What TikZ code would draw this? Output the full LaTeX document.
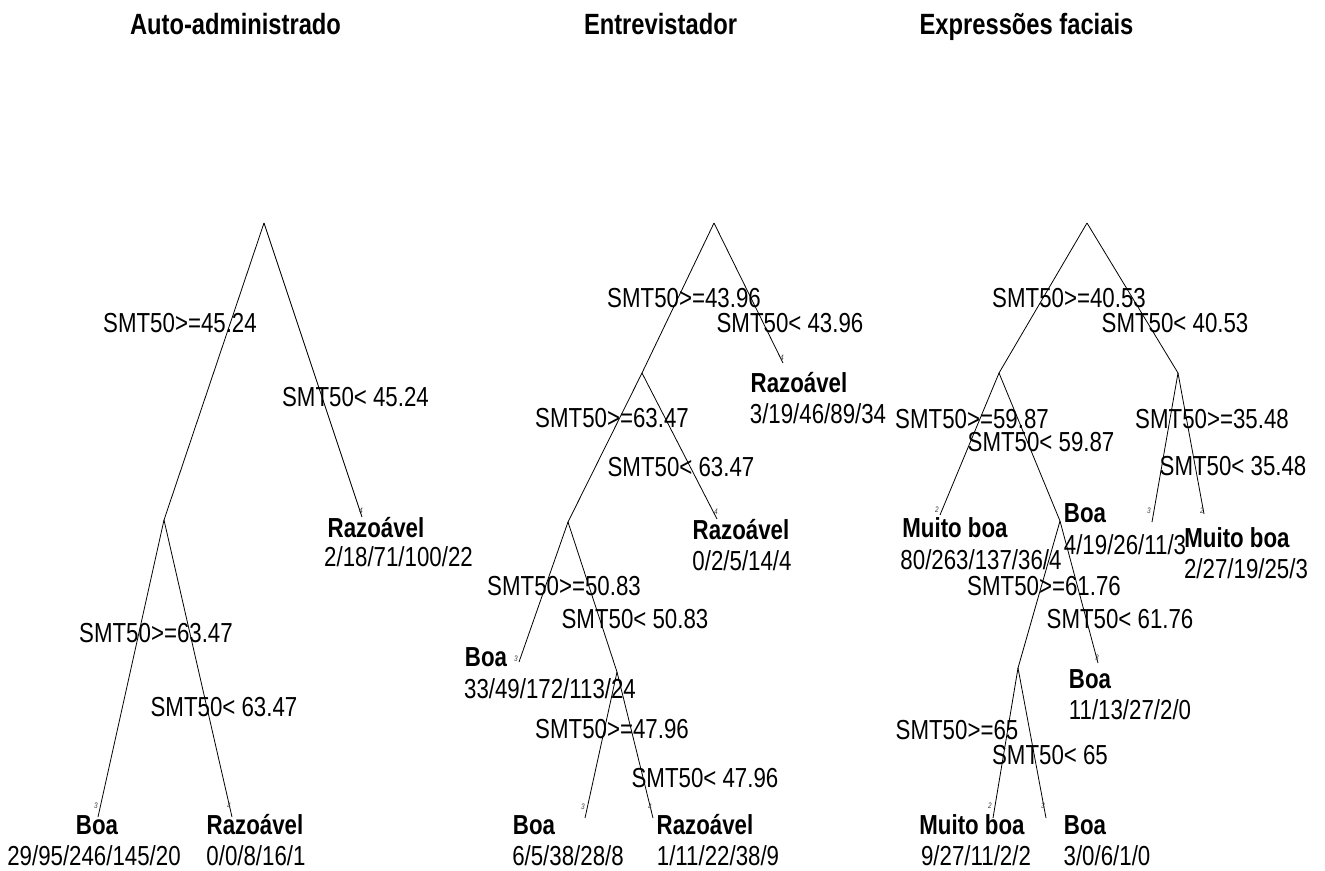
\documentclass[tikz,border=0pt]{standalone}
\usepackage{fontspec}
\setmainfont{Liberation Sans}[FakeStretch=0.81]
\begin{document}
\begin{tikzpicture}[x=1pt,y=-1pt,
  edge/.style={line width=0.8pt,black},
  lbl/.style={anchor=base,inner sep=0pt,font=\fontsize{27.5}{30}\selectfont},
  cls/.style={anchor=base,inner sep=0pt,font=\fontsize{27.5}{30}\selectfont\bfseries},
  ttl/.style={anchor=base,inner sep=0pt,font=\fontsize{29.3}{32}\selectfont\bfseries},
  tag/.style={anchor=center,inner sep=0pt,text=black!75,font=\fontsize{8}{9}\selectfont\itshape}]
\useasboundingbox (0,0) rectangle (1325,870);
% titles
\node[ttl] (t1) at (235.5,34) {Auto-administrado};
\node[ttl] (t2) at (660.5,34) {Entrevistador};
\node[ttl] (t3) at (1026.5,34) {Expressões faciais};
% ---------- panel 1 ----------
\coordinate (r1) at (264,223);
\coordinate (a1) at (164,520);
\coordinate (p1l3) at (362,517);
\coordinate (p1l1) at (98,817);
\coordinate (p1l2) at (232,817);
\draw[edge] (r1) -- (a1);
\draw[edge] (r1) -- (p1l3);
\draw[edge] (a1) -- (p1l1);
\draw[edge] (a1) -- (p1l2);
\node[lbl] (s1a) at (180,332) {SMT50>=45.24};
\node[lbl] (s1b) at (355.5,406) {SMT50< 45.24};
\node[lbl] (s1c) at (156,642.5) {SMT50>=63.47};
\node[lbl] (s1d) at (224,716) {SMT50< 63.47};
\node[cls] (c1a) at (376,537.5) {Razoável};
\node[lbl] (n1a) at (398.5,566) {2/18/71/100/22};
\node[cls] (c1b) at (97,834) {Boa};
\node[lbl] (n1b) at (94,865) {29/95/246/145/20};
\node[cls] (c1c) at (255,834) {Razoável};
\node[lbl] (n1c) at (256,865) {0/0/8/16/1};
\node[tag] (g1a) at (361,511) {4};
\node[tag] (g1b) at (96,806) {3};
\node[tag] (g1c) at (229,806) {4};
% ---------- panel 2 ----------
\coordinate (r2) at (714,223);
\coordinate (a2) at (642,373);
\coordinate (p2l1) at (783,363);
\coordinate (b2) at (568,522);
\coordinate (p2l2) at (717,519);
\coordinate (p2l3) at (519,662);
\coordinate (c2) at (617,672);
\coordinate (p2l4) at (585,818);
\coordinate (p2l5) at (653,818);
\draw[edge] (r2) -- (a2);
\draw[edge] (r2) -- (p2l1);
\draw[edge] (a2) -- (b2);
\draw[edge] (a2) -- (p2l2);
\draw[edge] (b2) -- (p2l3);
\draw[edge] (b2) -- (c2);
\draw[edge] (c2) -- (p2l4);
\draw[edge] (c2) -- (p2l5);
\node[lbl] (s2a) at (684,307) {SMT50>=43.96};
\node[lbl] (s2b) at (790,332) {SMT50< 43.96};
\node[cls] (c2a) at (799,392) {Razoável};
\node[lbl] (n2a) at (818,423) {3/19/46/89/34};
\node[lbl] (s2c) at (612,427.5) {SMT50>=63.47};
\node[lbl] (s2d) at (681,476) {SMT50< 63.47};
\node[cls] (c2b) at (741,539) {Razoável};
\node[lbl] (n2b) at (742,570) {0/2/5/14/4};
\node[lbl] (s2e) at (564,595) {SMT50>=50.83};
\node[lbl] (s2f) at (635,628) {SMT50< 50.83};
\node[cls] (c2c) at (486,666) {Boa};
\node[lbl] (n2c) at (550,698) {33/49/172/113/24};
\node[lbl] (s2g) at (612,738) {SMT50>=47.96};
\node[lbl] (s2h) at (705,787) {SMT50< 47.96};
\node[cls] (c2d) at (534,834) {Boa};
\node[lbl] (n2d) at (568,865) {6/5/38/28/8};
\node[cls] (c2e) at (705,834) {Razoável};
\node[lbl] (n2e) at (718,865) {1/11/22/38/9};
\node[tag] (g2a) at (782,358) {4};
\node[tag] (g2b) at (716,512) {4};
\node[tag] (g2c) at (516,659) {3};
\node[tag] (g2d) at (583,807) {3};
\node[tag] (g2e) at (650,807) {4};
% ---------- panel 3 ----------
\coordinate (r3) at (1087,223);
\coordinate (a3) at (999,373);
\coordinate (b3) at (1178,373);
\coordinate (p3l1) at (940,515);
\coordinate (c3) at (1060,521);
\coordinate (d3) at (1018,668);
\coordinate (p3l2) at (1098,663);
\coordinate (p3l3) at (993,818);
\coordinate (p3l4) at (1046,818);
\coordinate (p3l5) at (1152,522);
\coordinate (p3l6) at (1204,514);
\draw[edge] (r3) -- (a3);
\draw[edge] (r3) -- (b3);
\draw[edge] (a3) -- (p3l1);
\draw[edge] (a3) -- (c3);
\draw[edge] (c3) -- (d3);
\draw[edge] (c3) -- (p3l2);
\draw[edge] (d3) -- (p3l3);
\draw[edge] (d3) -- (p3l4);
\draw[edge] (b3) -- (p3l5);
\draw[edge] (b3) -- (p3l6);
\node[lbl] (s3a) at (1069,307) {SMT50>=40.53};
\node[lbl] (s3b) at (1175,332) {SMT50< 40.53};
\node[lbl] (s3c) at (972,428) {SMT50>=59.87};
\node[lbl] (s3d) at (1041,451) {SMT50< 59.87};
\node[lbl] (s3e) at (1212,428) {SMT50>=35.48};
\node[lbl] (s3f) at (1233,475.5) {SMT50< 35.48};
\node[cls] (c3a) at (955,537.5) {Muito boa};
\node[lbl] (n3a) at (981,569) {80/263/137/36/4};
\node[cls] (c3b) at (1085,522) {Boa};
\node[lbl] (n3b) at (1125,554) {4/19/26/11/3};
\node[cls] (c3c) at (1237,547) {Muito boa};
\node[lbl] (n3c) at (1246,578) {2/27/19/25/3};
\node[lbl] (s3g) at (1044,595) {SMT50>=61.76};
\node[lbl] (s3h) at (1120,628) {SMT50< 61.76};
\node[cls] (c3d) at (1090,688) {Boa};
\node[lbl] (n3d) at (1130,719) {11/13/27/2/0};
\node[lbl] (s3i) at (957,739) {SMT50>=65};
\node[lbl] (s3j) at (1050,764) {SMT50< 65};
\node[cls] (c3e) at (972,834) {Muito boa};
\node[lbl] (n3e) at (976,865) {9/27/11/2/2};
\node[cls] (c3f) at (1085,834) {Boa};
\node[lbl] (n3f) at (1107,865) {3/0/6/1/0};
\node[tag] (g3a) at (937,510) {2};
\node[tag] (g3b) at (1097,658) {3};
\node[tag] (g3c) at (990,806) {2};
\node[tag] (g3d) at (1043,806) {3};
\node[tag] (g3e) at (1149,511) {3};
\node[tag] (g3f) at (1202,511) {2};
\end{tikzpicture}
\end{document}
